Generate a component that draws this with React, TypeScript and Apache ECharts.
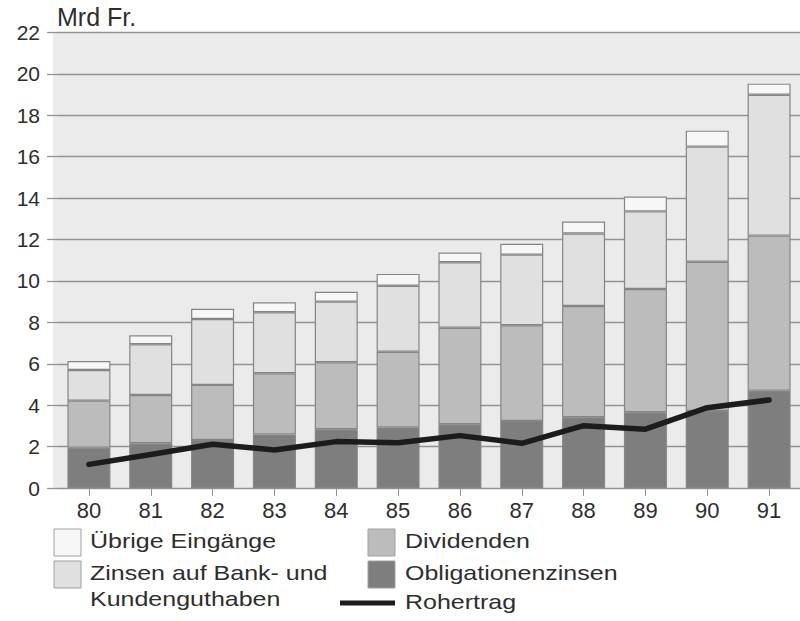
import React, { useEffect, useRef } from "react";
import * as echarts from "echarts";

const years = ["80", "81", "82", "83", "84", "85", "86", "87", "88", "89", "90", "91"];
const obligationenzinsen = [1.95, 2.16, 2.32, 2.59, 2.84, 2.93, 3.08, 3.24, 3.42, 3.66, 3.72, 4.7];
const dividenden = [2.27, 2.33, 2.66, 2.95, 3.23, 3.65, 4.66, 4.62, 5.37, 5.95, 7.21, 7.49];
const zinsenBank = [1.48, 2.45, 3.18, 2.95, 2.93, 3.19, 3.16, 3.41, 3.5, 3.75, 5.56, 6.8];
const uebrigeEingaenge = [0.43, 0.44, 0.5, 0.48, 0.48, 0.57, 0.47, 0.53, 0.58, 0.72, 0.77, 0.54];
const rohertrag = [1.14, 1.62, 2.11, 1.84, 2.24, 2.19, 2.53, 2.16, 3.01, 2.84, 3.88, 4.25];
const yTicks = [0, 2, 4, 6, 8, 10, 12, 14, 16, 18, 20, 22];

const FONT = "'Liberation Sans', Arial, Helvetica, sans-serif";
const TEXT = "#2e2e2e";
const C_UEB = "#f7f7f7";
const C_ZINS = "#e0e0e0";
const C_DIV = "#bcbcbc";
const C_OBL = "#7e7e7e";
const BORDER = "#858585";
const GRIDC = "#929292";

export default function App() {
  const ref = useRef<HTMLDivElement>(null);
  useEffect(() => {
    if (!ref.current) return;
    const chart = echarts.init(ref.current, undefined, { renderer: "svg" });
    const barCommon = {
      type: "bar",
      stack: "total",
      barWidth: 43,
      itemStyle: { borderColor: BORDER, borderWidth: 1.2 },
    };
    const legendText = (text: string, x: number, y: number) => ({
      type: "text",
      x,
      y,
      scaleX: 1.19,
      style: {
        text,
        fill: TEXT,
        font: `21px ${FONT}`,
        verticalAlign: "middle",
        align: "left",
      },
    });
    const legendBox = (x: number, y: number, fill: string) => ({
      type: "rect",
      shape: { x, y, width: 27, height: 27 },
      style: { fill, stroke: "#a0a0a0", lineWidth: 1 },
    });
    chart.setOption({
      animation: false,
      backgroundColor: "#ffffff",
      textStyle: { fontFamily: FONT },
      grid: {
        left: 58,
        top: 32.5,
        width: 745,
        height: 455.5,
        show: true,
        backgroundColor: "#ebebeb",
        borderWidth: 0,
      },
      xAxis: {
        type: "category",
        data: years,
        axisLine: { show: true, lineStyle: { color: GRIDC, width: 1.2 } },
        axisTick: { show: true, alignWithLabel: true, length: 8, lineStyle: { color: GRIDC } },
        axisLabel: { color: TEXT, fontSize: 22, fontFamily: FONT, margin: 11 },
      },
      yAxis: {
        type: "value",
        min: 0,
        max: 22,
        interval: 2,
        axisLine: { show: false },
        axisTick: { show: true, length: 11, lineStyle: { color: GRIDC, width: 1.3 } },
        axisLabel: {
          color: TEXT,
          fontSize: 21,
          fontFamily: FONT,
          margin: 18,
          formatter: (v: number) => (yTicks.includes(v) ? String(v) : ""),
        },
        splitLine: { show: true, lineStyle: { color: GRIDC, width: 1.3 } },
      },
      graphic: [
        {
          type: "rect",
          shape: { x: 53, y: 32.5, width: 5, height: 455.5 },
          style: { fill: "#ebebeb" },
          z: -10,
        },
        {
          type: "text",
          x: 57,
          y: 17,
          style: { text: "Mrd Fr.", fill: TEXT, font: `25px ${FONT}`, verticalAlign: "middle" },
        },
        legendBox(54, 529, C_UEB),
        legendText("Übrige Eingänge", 90, 541),
        legendBox(54, 561, C_ZINS),
        legendText("Zinsen auf Bank- und", 90, 573),
        legendText("Kundenguthaben", 90, 599),
        legendBox(368, 529, C_DIV),
        legendText("Dividenden", 405, 541),
        legendBox(368, 561, C_OBL),
        legendText("Obligationenzinsen", 405, 573),
        {
          type: "line",
          shape: { x1: 340, y1: 603, x2: 395, y2: 603 },
          style: { stroke: "#1c1c1c", lineWidth: 5 },
        },
        legendText("Rohertrag", 405, 602),
      ],
      series: [
        { ...barCommon, name: "Obligationenzinsen", data: obligationenzinsen, itemStyle: { ...barCommon.itemStyle, color: C_OBL } },
        { ...barCommon, name: "Dividenden", data: dividenden, itemStyle: { ...barCommon.itemStyle, color: C_DIV } },
        { ...barCommon, name: "Zinsen auf Bank- und Kundenguthaben", data: zinsenBank, itemStyle: { ...barCommon.itemStyle, color: C_ZINS } },
        { ...barCommon, name: "Übrige Eingänge", data: uebrigeEingaenge, itemStyle: { ...barCommon.itemStyle, color: C_UEB } },
        {
          type: "line",
          name: "Rohertrag",
          data: rohertrag,
          symbol: "none",
          z: 5,
          lineStyle: { color: "#1c1c1c", width: 5.5, join: "round", cap: "round" },
          itemStyle: { color: "#1c1c1c" },
        },
      ],
    });
    return () => chart.dispose();
  }, []);
  return (
    <div
      ref={ref}
      style={{ position: "fixed", left: 0, top: 0, width: 800, height: 621, background: "#fff" }}
    />
  );
}
